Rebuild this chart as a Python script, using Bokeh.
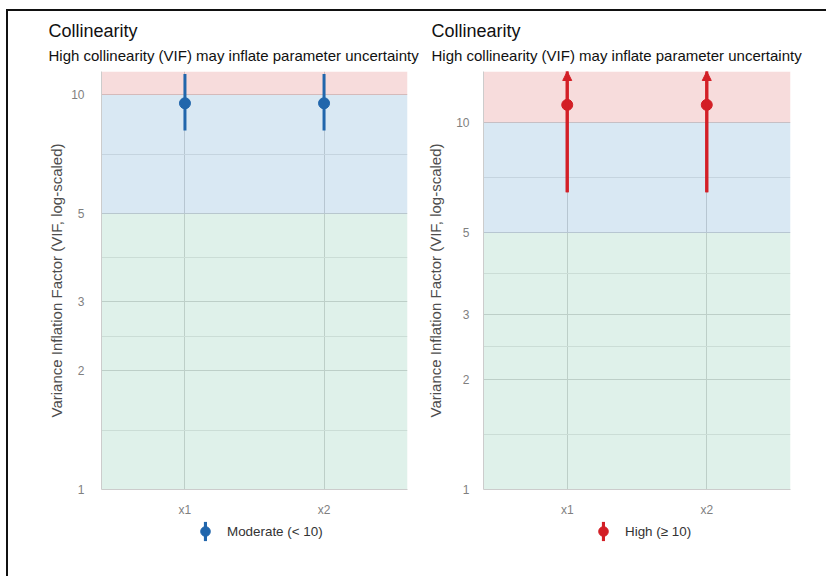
import numpy as np
from bokeh.plotting import figure
from bokeh.models import (ColumnDataSource, Range1d, FixedTicker, BoxAnnotation, Title,
                          Legend, LegendItem, Arrow, NormalHead, PrintfTickFormatter)
from bokeh.layouts import row, column
from bokeh.embed import file_html
from bokeh.resources import INLINE

# ---- data ----
terms = ["x1", "x2"]
vif_moderate = [9.53, 9.53]
ci_low_moderate = [8.13, 8.13]
ci_high_moderate = [11.3, 11.3]
vif_high = [11.17, 11.17]
ci_low_high = [6.46, 6.46]
ci_high_high = [19.3, 19.3]
zone_bounds = [1, 5, 10]
y_ticks = [1, 2, 3, 5, 10]
panel_y_top = [11.47, 13.77]

title_text = "Collinearity"
subtitle_text = "High collinearity (VIF) may inflate parameter uncertainty"
y_label = "Variance Inflation Factor (VIF, log-scaled)"

FONT = "Liberation Sans"
ZONE_COLORS = ["#7fc7ab", "#67a3cf", "#df7373"]


def make_panel(vif, lo, hi, color, y_top, frame_w, mb_left, mb_right,
               title_offset, label_standoff, tick_standoff):
    n = len(terms)
    x = np.arange(1, n + 1)
    p = figure(frame_width=frame_w, frame_height=418, y_axis_type="log",
               x_range=Range1d(0.4, n + 0.6), y_range=Range1d(zone_bounds[0], y_top),
               output_backend="svg", toolbar_location=None,
               min_border_left=mb_left, min_border_right=mb_right,
               min_border_top=60, min_border_bottom=28)
    p.title.visible = False
    p.outline_line_color = None

    p.add_layout(Title(text=subtitle_text, align="left", offset=title_offset,
                       text_font=FONT, text_font_size="15px", text_font_style="normal",
                       text_color="#111111", standoff=15), "above")
    p.add_layout(Title(text=title_text, align="left", offset=title_offset,
                       text_font=FONT, text_font_size="18px", text_font_style="normal",
                       text_color="#111111", standoff=-7), "above")

    bounds = list(zone_bounds) + [None]
    for i, c in enumerate(ZONE_COLORS):
        kw = dict(bottom=bounds[i], fill_color=c, fill_alpha=0.25, line_color=None,
                  level="underlay")
        if bounds[i + 1] is not None:
            kw["top"] = bounds[i + 1]
        p.add_layout(BoxAnnotation(**kw))

    minor = list(np.sqrt(np.array(y_ticks[:-1], float) * np.array(y_ticks[1:], float)))
    yt = FixedTicker(ticks=y_ticks, minor_ticks=minor)
    p.yaxis.ticker = yt
    p.ygrid.ticker = yt
    p.yaxis.formatter = PrintfTickFormatter(format="%d")
    xt = FixedTicker(ticks=list(x))
    p.xaxis.ticker = xt
    p.xgrid.ticker = xt
    p.xaxis.major_label_overrides = {int(v): t for v, t in zip(x, terms)}

    p.ygrid.grid_line_color = "#d2d2d2"
    p.ygrid.minor_grid_line_color = "#e4e4e4"
    p.xgrid.grid_line_color = "#d2d2d2"

    for ax in (p.xaxis[0], p.yaxis[0]):
        ax.major_tick_line_color = None
        ax.minor_tick_line_color = None
        ax.axis_line_color = "#cccccc"
        ax.major_label_text_font = FONT
        ax.major_label_text_font_size = "12px"
        ax.major_label_text_color = "#7f7f7f"
    p.yaxis.major_label_standoff = tick_standoff
    p.xaxis.major_label_standoff = 7
    p.yaxis.axis_label = y_label
    p.yaxis.axis_label_text_font = FONT
    p.yaxis.axis_label_text_font_size = "15px"
    p.yaxis.axis_label_text_font_style = "normal"
    p.yaxis.axis_label_text_color = "#4d4d4d"
    p.yaxis.axis_label_standoff = label_standoff

    hi_arr = np.array(hi, float)
    src = ColumnDataSource(dict(x=x, vif=vif, lo=lo, hi=hi))
    p.segment(x0="x", y0="lo", x1="x", y1="hi", source=src, line_color=color, line_width=3)
    p.scatter("x", "vif", source=src, size=11, fill_color=color, line_color=color)
    over = np.where(hi_arr > y_top)[0]
    if len(over):
        asrc = ColumnDataSource(dict(x=x[over], lo=np.array(lo, float)[over],
                                     top=np.full(len(over), y_top)))
        p.add_layout(Arrow(end=NormalHead(size=9, fill_color=color, line_color=color),
                           x_start="x", y_start="lo", x_end="x", y_end="top",
                           source=asrc, line_color=color, line_width=3))
    return p


def make_key(color, label, width, legend_x):
    """Legend strip under a panel: thin vertical bar + point, then the label."""
    s = figure(width=width, height=58, x_range=Range1d(0, 1), y_range=Range1d(0, 1),
               output_backend="svg", toolbar_location=None,
               x_axis_location=None, y_axis_location=None,
               min_border_left=0, min_border_right=0, min_border_top=0,
               min_border_bottom=0)
    s.title.visible = False
    s.outline_line_color = None
    s.xgrid.grid_line_color = None
    s.ygrid.grid_line_color = None
    s.xgrid.visible = False
    s.ygrid.visible = False
    key_bar = s.vbar(x=[np.nan], top=[np.nan], bottom=[np.nan], width=0.1,
                     fill_color=color, line_color=None)
    key_pt = s.scatter(x=[np.nan], y=[np.nan], size=11, fill_color=color,
                       line_color=color)
    common = dict(orientation="horizontal", margin=0, padding=0, glyph_height=24,
                  label_text_font=FONT, label_text_font_size="13.4px",
                  label_text_color="#333333", border_line_color=None,
                  background_fill_alpha=0)
    leg_a = Legend(items=[LegendItem(label=label, renderers=[key_bar])],
                   location=(legend_x, 34), glyph_width=4, label_standoff=20, **common)
    leg_b = Legend(items=[LegendItem(label=" ", renderers=[key_pt])],
                   location=(legend_x - 11, 34), glyph_width=26, label_standoff=0,
                   **common)
    s.add_layout(leg_a, "center")
    s.add_layout(leg_b, "center")
    return s


p1 = make_panel(vif_moderate, ci_low_moderate, ci_high_moderate, "#2166ac",
                panel_y_top[0], 306, 93, 13, -53, 3, 11)
p2 = make_panel(vif_high, ci_low_high, ci_high_high, "#d31f26",
                panel_y_top[1], 307, 63, 36, -52, 9, 8)
k1 = make_key("#2166ac", "Moderate (< 10)", 93 + 306 + 13, 195)
k2 = make_key("#d31f26", "High (\u2265 10)", 63 + 307 + 36, 181)

layout = column(row(p1, p2), row(k1, k2),
                styles={"margin": "9px 0px 0px 6px",
                        "border-top": "2px solid #111111",
                        "border-left": "2px solid #111111"})

open("out.html", "w").write(file_html(layout, INLINE))
